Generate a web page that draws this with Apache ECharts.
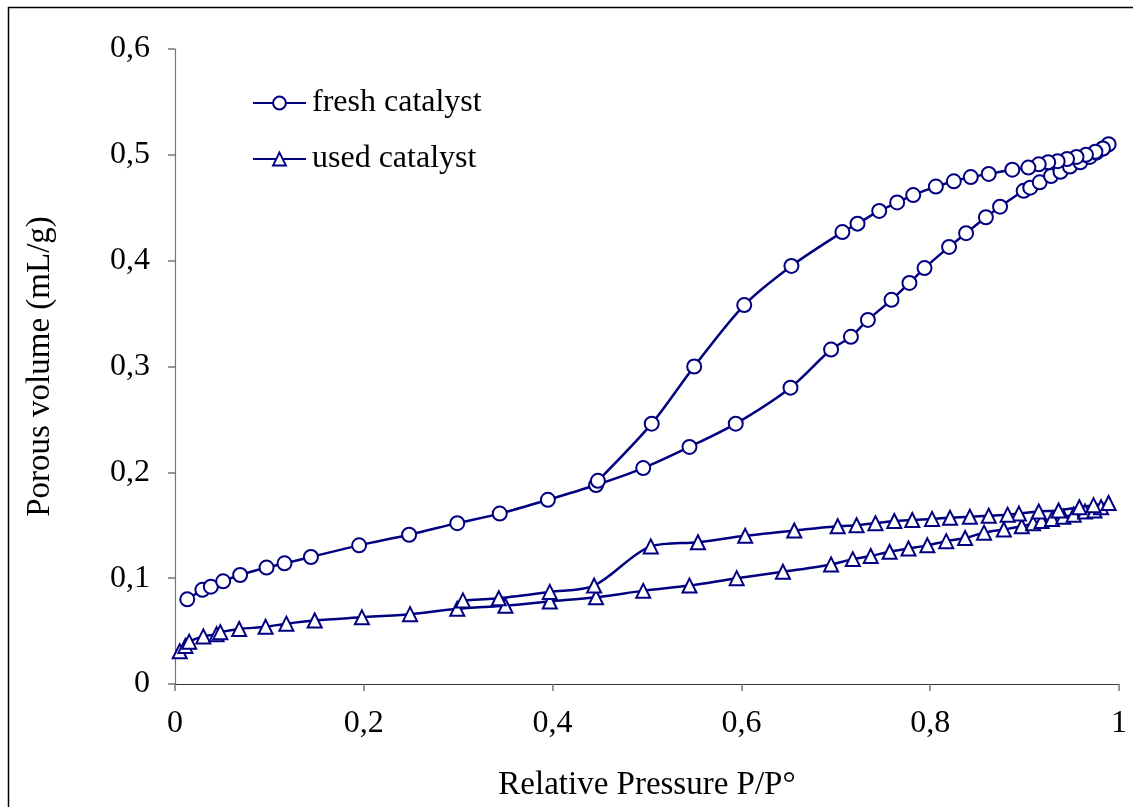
<!DOCTYPE html>
<html>
<head>
<meta charset="utf-8">
<script src="https://cdn.jsdelivr.net/npm/echarts@6/dist/echarts.min.js"></script>
<style>
  html, body { margin: 0; padding: 0; background: #fff; }
  #chart { width: 1133px; height: 807px; }
</style>
</head>
<body>
<div id="chart"></div>
<script>
// Nitrogen isotherms: adsorption branch followed by desorption branch
const freshPressure = [
  0.013, 0.029, 0.038, 0.051, 0.069, 0.097, 0.116, 0.144, 0.195, 0.248, 0.299, 0.344, 0.395, 0.446,
  0.496, 0.545, 0.594, 0.652, 0.695, 0.716, 0.734, 0.759, 0.778, 0.794, 0.820, 0.838, 0.859, 0.874,
  0.899, 0.906, 0.916, 0.928, 0.938, 0.948, 0.959, 0.969, 0.976, 0.983, 0.989,
  0.983, 0.975, 0.965, 0.955, 0.945, 0.935, 0.925, 0.915, 0.904, 0.887, 0.862, 0.843, 0.825, 0.806,
  0.782, 0.765, 0.746, 0.723, 0.707, 0.653, 0.603, 0.550, 0.505, 0.448
];
const freshVolume = [
  0.080, 0.089, 0.092, 0.097, 0.103, 0.110, 0.114, 0.120, 0.131, 0.141, 0.152, 0.161, 0.174, 0.188,
  0.204, 0.224, 0.246, 0.280, 0.316, 0.328, 0.344, 0.363, 0.379, 0.393, 0.413, 0.426, 0.441, 0.451,
  0.466, 0.469, 0.474, 0.480, 0.484, 0.489, 0.493, 0.498, 0.502, 0.506, 0.510,
  0.506, 0.503, 0.500, 0.498, 0.496, 0.494, 0.493, 0.491, 0.488, 0.486, 0.482, 0.479, 0.475, 0.470,
  0.462, 0.455, 0.447, 0.435, 0.427, 0.395, 0.358, 0.300, 0.246, 0.192
];
const usedPressure = [
  0.005, 0.011, 0.015, 0.030, 0.044, 0.048, 0.068, 0.096, 0.118, 0.148, 0.198, 0.249, 0.299, 0.350,
  0.397, 0.446, 0.496, 0.545, 0.595, 0.644, 0.695, 0.718, 0.737, 0.757, 0.777, 0.797, 0.817, 0.837,
  0.857, 0.878, 0.897, 0.909, 0.918, 0.929, 0.941, 0.952, 0.964, 0.974, 0.981, 0.989,
  0.973, 0.958, 0.936, 0.915, 0.894, 0.882, 0.862, 0.842, 0.821, 0.802, 0.781, 0.762, 0.742, 0.722,
  0.702, 0.656, 0.604, 0.554, 0.504, 0.444, 0.397, 0.343, 0.305
];
const usedVolume = [
  0.031, 0.036, 0.040, 0.045, 0.047, 0.049, 0.052, 0.054, 0.057, 0.060, 0.063, 0.066, 0.071, 0.074,
  0.078, 0.082, 0.088, 0.093, 0.100, 0.106, 0.113, 0.118, 0.121, 0.125, 0.128, 0.131, 0.135, 0.138,
  0.143, 0.146, 0.149, 0.152, 0.154, 0.156, 0.158, 0.160, 0.163, 0.164, 0.167, 0.171,
  0.169, 0.167, 0.164, 0.163, 0.161, 0.160, 0.159, 0.158, 0.157, 0.156, 0.155, 0.154, 0.152, 0.150,
  0.149, 0.145, 0.140, 0.134, 0.130, 0.093, 0.087, 0.081, 0.079
];
const xTicks = [0, 0.2, 0.4, 0.6, 0.8, 1];
const yTicks = [0, 0.1, 0.2, 0.3, 0.4, 0.5, 0.6];

const NAVY = '#000080';
const FONT = '"Liberation Serif", "Times New Roman", serif';
const pairs = (xs, ys) => xs.map((x, i) => [x, ys[i]]);
const commaFmt = v => (v === 0 || v === 1) ? String(v) : v.toFixed(1).replace('.', ',');

const chart = echarts.init(document.getElementById('chart'), null, { renderer: 'canvas' });

const seriesStyle = (name, symbol, size, data) => ({
  name, type: 'line', data, smooth: 0.3,
  symbol, symbolSize: size,
  lineStyle: { color: NAVY, width: 2.5 },
  itemStyle: { color: '#fff', borderColor: NAVY, borderWidth: 2 },
  emphasis: { disabled: true },
  animation: false
});

chart.setOption({
  backgroundColor: '#fff',
  animation: false,
  textStyle: { fontFamily: FONT },
  graphic: [{
    type: 'rect', silent: true,
    shape: { x: 8.5, y: 7.5, width: 1200, height: 900 },
    style: { fill: 'none', stroke: '#000', lineWidth: 1.5 }
  }],
  grid: { left: 175, right: 14, top: 49, bottom: 122, containLabel: false },
  legend: {
    orient: 'vertical', left: 252, top: 87, padding: 0,
    itemWidth: 53, itemHeight: 16, itemGap: 24,
    textStyle: { fontFamily: FONT, fontSize: 32, color: '#000', lineHeight: 32, padding: [0, 0, 0, 1] },
    data: [
      { name: 'fresh catalyst' },
      { name: 'used catalyst' }
    ]
  },
  xAxis: {
    type: 'value', min: 0, max: 1, interval: 0.2,
    name: 'Relative Pressure P/P°', nameLocation: 'middle', nameGap: 85,
    nameTextStyle: { fontFamily: FONT, fontSize: 33, color: '#000' },
    axisLine: { lineStyle: { color: '#333', width: 1.2 } },
    axisTick: { show: true, inside: false, length: 7, lineStyle: { color: '#777', width: 1.5 } },
    axisLabel: { margin: 24, fontFamily: FONT, fontSize: 32, color: '#000',
      formatter: v => xTicks.includes(+v.toFixed(1)) ? commaFmt(v) : '' },
    splitLine: { show: false }
  },
  yAxis: {
    type: 'value', min: 0, max: 0.6, interval: 0.1,
    name: 'Porous volume (mL/g)', nameLocation: 'middle', nameGap: 118, nameRotate: 90,
    nameTextStyle: { fontFamily: FONT, fontSize: 33, color: '#000' },
    axisLine: { show: true, lineStyle: { color: '#777', width: 1.2 } },
    axisTick: { show: true, inside: false, length: 7, lineStyle: { color: '#777', width: 1.5 } },
    axisLabel: { margin: 25, fontFamily: FONT, fontSize: 32, color: '#000',
      formatter: v => yTicks.includes(+v.toFixed(1)) ? commaFmt(v) : '' },
    splitLine: { show: false }
  },
  series: [
    seriesStyle('fresh catalyst', 'circle', 14, pairs(freshPressure, freshVolume)),
    seriesStyle('used catalyst', 'triangle', 14, pairs(usedPressure, usedVolume))
  ]
});
</script>
</body>
</html>
